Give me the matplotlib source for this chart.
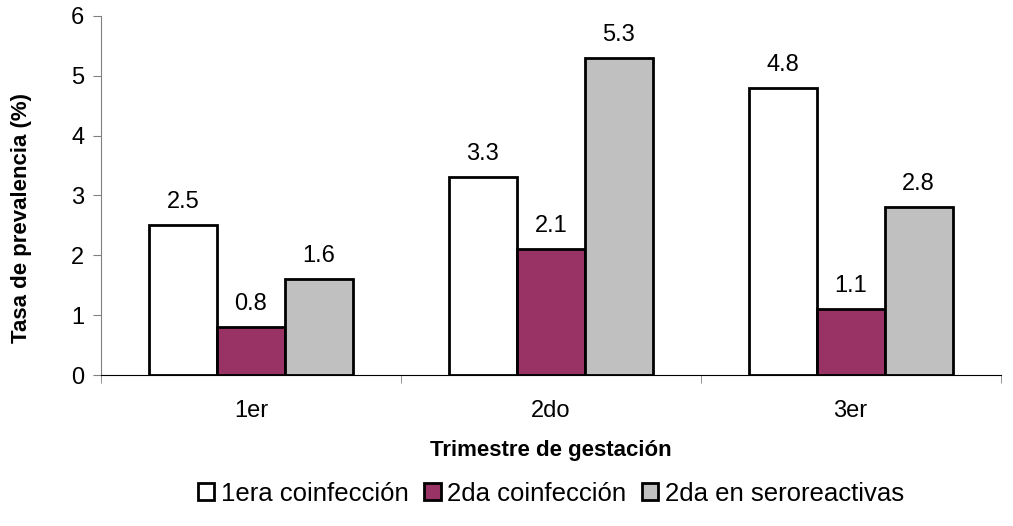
import numpy as np
import matplotlib.pyplot as plt

plt.rcParams['font.family'] = ['Liberation Sans', 'DejaVu Sans']

trimestres = ['1er', '2do', '3er']
coinf_1era = [2.5, 3.3, 4.8]
coinf_2da = [0.8, 2.1, 1.1]
seroreactivas = [1.6, 5.3, 2.8]
series = ['1era coinfección', '2da coinfección', '2da en seroreactivas']
colores = ['white', '#993366', '#C0C0C0']

fig = plt.figure(figsize=(10.13, 5.26), dpi=100)
ax = fig.add_axes([0.0997, 0.287, 0.888, 0.683])

x = np.arange(len(trimestres))
w = 0.227
for i, (vals, lab, col) in enumerate(zip([coinf_1era, coinf_2da, seroreactivas], series, colores)):
    pos = x + (i - 1) * w
    ax.bar(pos, vals, w, color=col, edgecolor='black', linewidth=2, label=lab)
    for p, v in zip(pos, vals):
        ax.text(p, v + 0.2, f'{v:.1f}', ha='center', va='bottom', fontsize=17)

ax.set_xlim(-0.5, 2.5)
ax.set_ylim(0, 6)
ax.set_yticks(range(7))
ax.set_xticks(x)
ax.set_xticklabels(trimestres)
ax.set_xticks([-0.5, 0.5, 1.5, 2.5], minor=True)
ax.tick_params(axis='x', which='major', length=0, pad=18, labelsize=17)
ax.tick_params(axis='x', which='minor', length=6, color='#808080')
ax.tick_params(axis='y', length=6, pad=6, labelsize=17, color='#808080')
for s in ['top', 'right']:
    ax.spines[s].set_visible(False)
ax.spines['left'].set_color('#808080')
ax.spines['bottom'].set_color('black')

ax.set_ylabel('Tasa de prevalencia (%)', fontsize=16, fontweight='bold')
ax.yaxis.set_label_coords(-0.077, 0.437)
ax.set_xlabel('Trimestre de gestación', fontsize=16, fontweight='bold', labelpad=13)

ax.legend(loc='center', bbox_to_anchor=(0.5, -0.33), ncol=3, frameon=False,
          fontsize=18.5, handlelength=0.65, handleheight=0.65, handletextpad=0.25,
          columnspacing=0.6)

fig.savefig('out.png', dpi=100)
